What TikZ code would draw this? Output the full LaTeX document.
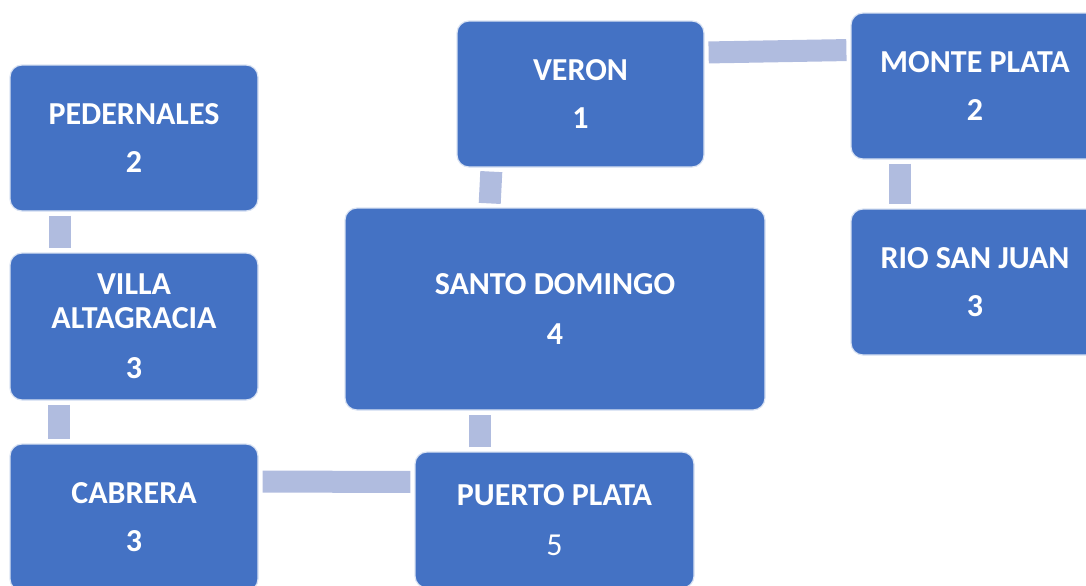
\documentclass[tikz,border=0pt]{standalone}
\usepackage{fontspec}
\setmainfont{Carlito}
\usepackage{tikz}
\definecolor{boxblue}{HTML}{4472C4}
\definecolor{linkblue}{HTML}{B0BCDF}
\tikzset{city/.style={draw=white!80!boxblue, line width=0.6pt, fill=boxblue, rounded corners=6pt, text=white, align=center, font=\fontsize{16}{17}\selectfont\bfseries}}
\tikzset{link/.style={draw=linkblue, line width=11pt, shorten <=2pt, shorten >=2pt}}

\begin{document}
\begin{tikzpicture}[x=0.5pt,y=-0.5pt]
\useasboundingbox (0,0) rectangle (1086,585);
\clip (0,0) rectangle (1086,585);
\node[city, minimum width=124pt, minimum height=73pt] (ped) at (134,138) {PEDERNALES\\[7pt]2};
\node[city, minimum width=124pt, minimum height=73.5pt] (villa) at (134,326.5) {VILLA\\ALTAGRACIA\\[8pt]3};
\node[city, minimum width=124pt, minimum height=73.5pt] (cab) at (134,517.5) {CABRERA\\[7pt]3};
\node[city, minimum width=123.5pt, minimum height=73pt] (veron) at (580.5,94) {VERON\\[7pt]1};
\node[city, minimum width=124pt, minimum height=73pt] (monte) at (975,86) {MONTE PLATA\\[7pt]2};
\node[city, minimum width=124pt, minimum height=73pt] (rio) at (975,282) {RIO SAN JUAN\\[7pt]3};
\node[city, minimum width=210pt, minimum height=101pt] (santo) at (555,309) {SANTO DOMINGO\\[8pt]4};
\node[city, minimum width=139.5pt, minimum height=68pt] (puerto) at (554.5,520) {PUERTO PLATA\\[8pt]\mdseries 5};
\draw[link] ([xshift=-37pt]ped.south) -- ([xshift=-37pt]villa.north);
\draw[link] ([xshift=-37.5pt]villa.south) -- ([xshift=-37.5pt]cab.north);
\draw[link] ([yshift=18pt]cab.east) -- ([yshift=19pt]puerto.west);
\draw[link] ([xshift=-37.25pt]puerto.north) -- ([xshift=-37.5pt]santo.south);
\draw[link] ([xshift=-32.75pt]santo.north) -- ([xshift=-44.5pt]veron.south);
\draw[link] ([yshift=20.75pt]veron.east) -- ([yshift=18pt]monte.west);
\draw[link] ([xshift=-37.5pt]monte.south) -- ([xshift=-37.5pt]rio.north);
\end{tikzpicture}
\end{document}
